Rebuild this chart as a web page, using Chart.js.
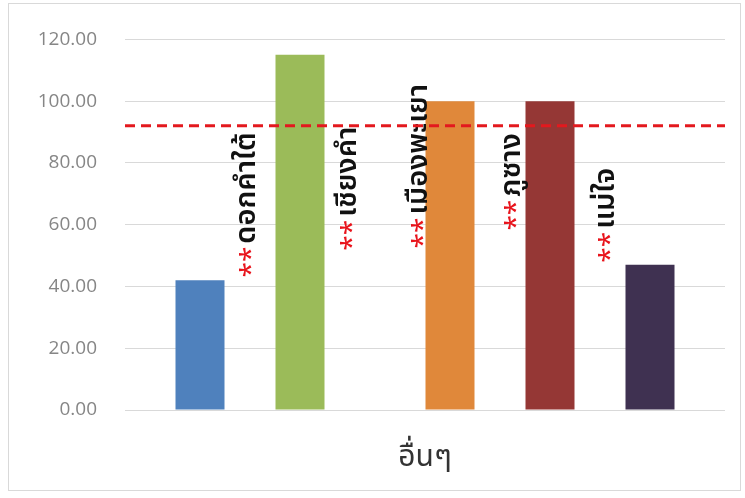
<!DOCTYPE html>
<html>
<head>
<meta charset="utf-8">
<script src="https://cdn.jsdelivr.net/npm/chart.js@4"></script>
<style>
  html, body { margin: 0; padding: 0; background: #fff; }
  #wrap { position: relative; width: 745px; height: 498px; }
  #frame { position: absolute; left: 8px; top: 3px; width: 731px; height: 486px; border: 1px solid #d9d9d9; pointer-events: none; }
  canvas { position: absolute; left: 0; top: 0; }
</style>
</head>
<body>
<div id="wrap">
  <canvas id="rateChart" width="745" height="498"></canvas>
  <div id="frame"></div>
</div>
<script>
// data
const districts = ['ดอกคำใต้', 'เชียงคำ', 'เมืองพะเยา', 'ภูซาง', 'แม่ใจ'];
const rates = [42, 115, 100, 100, 47];
const target = 92;
const yTicks = [0, 20, 40, 60, 80, 100, 120];
const groupLabel = 'อื่นๆ';

// look
const barColors = ['#4f81bd', '#9bbb59', '#e0883a', '#953735', '#3f3151'];
const slotCount = 12;
const slotOf = [1, 3, 6, 8, 10];
// where each rotated name sits: x in slots, bottom of the "**" in axis units
const nameX = [1.98, 4.0, 5.42, 7.28, 9.16];
const nameY = [42.9, 51.6, 52.3, 58.1, 47.7];
const thaiFont = 'Tahoma, "Noto Sans Thai", "Leelawadee UI", "DejaVu Sans", sans-serif';

const slotLabels = [];
const slotData = [];
const slotColors = [];
for (let i = 0; i < slotCount; i++) {
  const k = slotOf.indexOf(i);
  slotLabels.push(k >= 0 ? districts[k] : '');
  slotData.push(k >= 0 ? rates[k] : null);
  slotColors.push(k >= 0 ? barColors[k] : 'transparent');
}

const extras = {
  id: 'extras',
  afterDatasetsDraw(chart) {
    const { ctx, chartArea, scales } = chart;
    const x = scales.x, y = scales.y;

    // names, rotated, with red stars first
    districts.forEach((name, i) => {
      const px = x.getPixelForValue(nameX[i]);
      const py = y.getPixelForValue(nameY[i]);
      ctx.save();
      ctx.translate(px, py);
      ctx.rotate(-Math.PI / 2);
      ctx.textBaseline = 'middle';
      ctx.textAlign = 'left';
      ctx.font = '28px ' + thaiFont;
      ctx.fillStyle = '#e8131b';
      ctx.fillText('**', 0, 5);
      const w = ctx.measureText('**').width;
      ctx.font = '600 29px ' + thaiFont;
      ctx.fillStyle = '#111';
      ctx.fillText(name, w + 3, 0);
      ctx.restore();
    });

    // target line
    const ty = y.getPixelForValue(target);
    ctx.save();
    ctx.strokeStyle = '#e3191e';
    ctx.lineWidth = 3;
    ctx.setLineDash([10, 6]);
    ctx.beginPath();
    ctx.moveTo(chartArea.left, ty);
    ctx.lineTo(chartArea.right, ty);
    ctx.stroke();
    ctx.restore();
  }
};

new Chart(document.getElementById('rateChart').getContext('2d'), {
  type: 'bar',
  data: {
    labels: slotLabels,
    datasets: [{
      data: slotData,
      backgroundColor: slotColors,
      barPercentage: 0.98,
      categoryPercentage: 1
    }]
  },
  options: {
    responsive: false,
    animation: false,
    layout: { padding: { top: 38, right: 20, bottom: 0, left: 0 } },
    plugins: { legend: { display: false }, tooltip: { enabled: false } },
    scales: {
      x: {
        grid: { display: false },
        border: { display: false },
        ticks: { display: false },
        title: {
          display: true,
          text: groupLabel,
          color: '#333',
          font: { size: 30, family: thaiFont },
          padding: { top: 0, bottom: 20 }
        },
        afterFit(s) { s.height = 88; }
      },
      y: {
        min: 0,
        max: 120,
        afterBuildTicks(s) { s.ticks = yTicks.map(v => ({ value: v })); },
        ticks: {
          color: '#868686',
          font: { size: 19, family: '"Open Sans", "DejaVu Sans", sans-serif' },
          padding: 28,
          callback: v => Number(v).toFixed(2)
        },
        grid: { color: '#d9d9d9', lineWidth: 1, drawTicks: false },
        border: { display: false },
        afterFit(s) { s.width = 125; }
      }
    }
  },
  plugins: [extras]
});
</script>
</body>
</html>
